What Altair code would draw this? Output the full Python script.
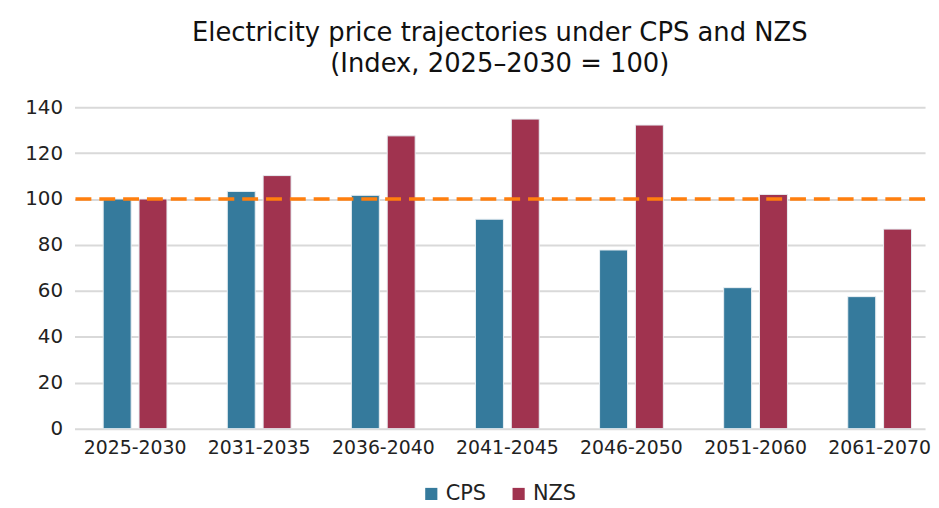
import altair as alt
import pandas as pd

periods = ["2025-2030", "2031-2035", "2036-2040", "2041-2045", "2046-2050", "2051-2060", "2061-2070"]
cps = [100, 103.3, 101.6, 91.2, 77.8, 61.4, 57.5]
nzs = [100, 110.2, 127.5, 134.8, 132.2, 102, 86.9]
scenarios = ["CPS", "NZS"]
colors = ["#357A9C", "#A0334F"]
baseline = [100]

rows = []
for i, p in enumerate(periods):
    rows.append({"period": p, "scenario": "CPS", "value": cps[i]})
    rows.append({"period": p, "scenario": "NZS", "value": nzs[i]})
df = pd.DataFrame(rows)

font = "DejaVu Sans"

bars = alt.Chart(df).mark_bar(stroke="#e8eef2", strokeWidth=1).encode(
    x=alt.X("period:N", sort=periods, title=None,
            scale=alt.Scale(paddingInner=0.486, paddingOuter=0.17, align=0.68),
            axis=alt.Axis(labelAngle=0, labelFontSize=19, labelColor="#222", labelFont=font,
                          domain=False, ticks=False, labelPadding=10)),
    xOffset=alt.XOffset("scenario:N", sort=scenarios, scale=alt.Scale(paddingInner=0.22)),
    y=alt.Y("value:Q", title=None,
            scale=alt.Scale(domain=[0, 140]),
            axis=alt.Axis(values=[0, 20, 40, 60, 80, 100, 120, 140], labelFontSize=20,
                          labelColor="#222", labelFont=font, domain=False, ticks=False,
                          gridColor="#d9d9d9", gridWidth=2, labelPadding=12)),
    color=alt.Color("scenario:N", sort=scenarios,
                    scale=alt.Scale(domain=scenarios, range=colors),
                    legend=alt.Legend(orient="none", legendX=349, legendY=379,
                                      direction="horizontal", title=None, symbolType="square",
                                      symbolSize=150, labelFontSize=21, labelFont=font,
                                      labelColor="#222", columnPadding=22,
                                      symbolStrokeWidth=0, labelOffset=4)),
)

rule = alt.Chart(pd.DataFrame({"y": baseline})).mark_rule(
    color="#FF7F0E", strokeWidth=3.5, strokeDash=[16, 8]
).encode(y="y:Q")

chart = alt.layer(bars, rule).properties(
    width=857, height=324,
    padding={"left": 16, "top": 10, "right": 0, "bottom": 0},
    title=alt.TitleParams(
        ["Electricity price trajectories under CPS and NZS", "(Index, 2025\u20132030 = 100)"],
        fontSize=26, font=font, fontWeight="normal", color="#111", anchor="middle",
        lineHeight=32, offset=20),
).configure(background="white").configure_view(stroke=None)

chart.save("out.html", embed_options={"renderer": "svg", "actions": False})
